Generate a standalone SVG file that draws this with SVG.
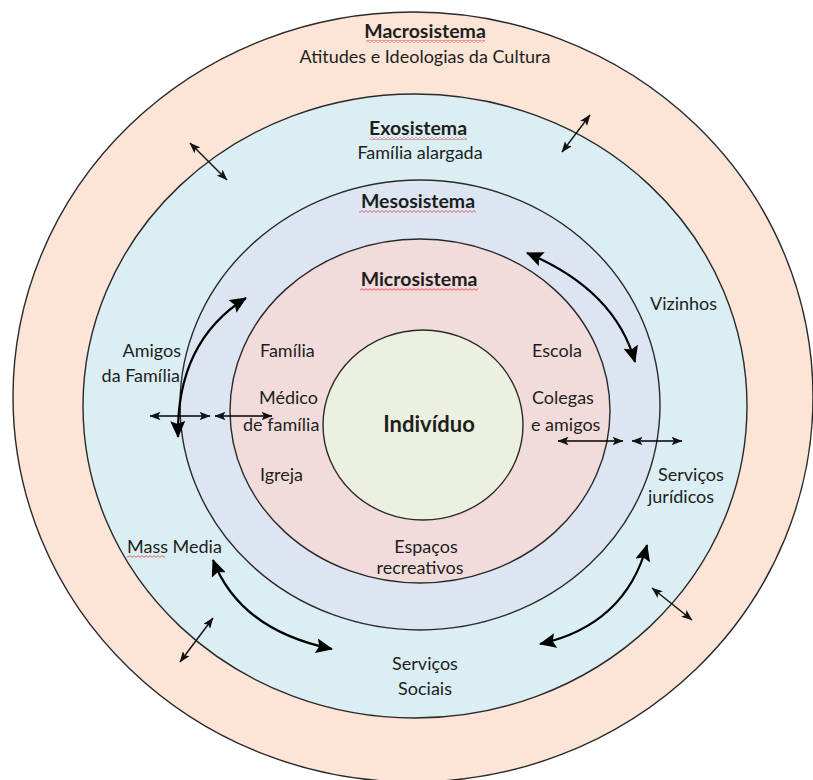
<svg xmlns="http://www.w3.org/2000/svg" width="813" height="780" viewBox="0 0 813 780">
  <style>
    .ring { stroke: #2a2a2a; stroke-width: 1.4; }
    .t { font-family: Lato, "Open Sans", "Liberation Sans", sans-serif; font-size: 18px; fill: #1e1e1e; }
    .b { font-weight: bold; font-size: 19.5px; }
    .c { text-anchor: middle; }
    .e { text-anchor: end; }
    .big { fill: none; stroke: #000; stroke-width: 2.2; marker-start: url(#bigHead); marker-end: url(#bigHead); }
    .hz { fill: none; stroke: #000; stroke-width: 1.6; marker-start: url(#smallHead); marker-end: url(#smallHead); }
    .dg { fill: none; stroke: #111; stroke-width: 1.4; marker-start: url(#smallHead); marker-end: url(#smallHead); }
  </style>
  <defs>
    <marker id="bigHead" viewBox="0 0 17 15" refX="16" refY="7.5" markerWidth="17" markerHeight="15" markerUnits="userSpaceOnUse" orient="auto-start-reverse">
      <path d="M0,0 L17,7.5 L0,15 L3,7.5 Z" fill="#000"/>
    </marker>
    <marker id="smallHead" viewBox="0 0 11 8.5" refX="10.5" refY="4.25" markerWidth="11" markerHeight="8.5" markerUnits="userSpaceOnUse" orient="auto-start-reverse">
      <path d="M0,0 L11,4.25 L0,8.5 L2.5,4.25 Z" fill="#111"/>
    </marker>
    <pattern id="wavy" width="4" height="3" patternUnits="userSpaceOnUse">
      <path d="M0,2.4 L2,0.6 L4,2.4" fill="none" stroke="#e23b3b" stroke-width="0.8"/>
    </pattern>
  </defs>
  <rect width="813" height="780" fill="#ffffff"/>

  <g id="macrosistema">
    <ellipse class="ring" cx="413" cy="397" rx="400" ry="385" fill="#fce4d6"/>
    <text class="t b c" x="425" y="38">Macrosistema</text>
    <rect x="366" y="40" width="119" height="3" fill="url(#wavy)"/>
    <text class="t c" x="425" y="63">Atitudes e Ideologias da Cultura</text>
  </g>

  <g id="exosistema">
    <ellipse class="ring" cx="415" cy="406" rx="332" ry="312" fill="#daeef3"/>
    <text class="t b c" x="418" y="135">Exosistema</text>
    <rect x="370" y="137" width="97" height="3" fill="url(#wavy)"/>
    <text class="t c" x="420" y="159">Família alargada</text>
  </g>

  <g id="mesosistema">
    <ellipse class="ring" cx="420" cy="405" rx="240" ry="225" fill="#dce5f1"/>
    <text class="t b c" x="418" y="208">Mesosistema</text>
    <rect x="359" y="210" width="117" height="3" fill="url(#wavy)"/>
  </g>

  <g id="microsistema">
    <ellipse class="ring" cx="420" cy="411" rx="190" ry="172" fill="#f2dcdb"/>
    <text class="t b c" x="419" y="286">Microsistema</text>
    <rect x="360" y="288" width="118" height="3" fill="url(#wavy)"/>
  </g>

  <g id="individuo">
    <ellipse class="ring" cx="423" cy="425" rx="100" ry="95" fill="#ebf1de"/>
    <text class="t b c" x="429" y="432" style="font-size:22px">Indivíduo</text>
  </g>

  <g id="micro-labels">
    <text class="t" x="260" y="357">Família</text>
    <text class="t" x="259" y="404">Médico</text>
    <text class="t" x="243" y="431">de família</text>
    <text class="t" x="260" y="481">Igreja</text>
    <text class="t" x="532" y="357">Escola</text>
    <text class="t" x="532" y="404">Colegas</text>
    <text class="t" x="531" y="431">e amigos</text>
    <text class="t c" x="426" y="553">Espaços</text>
    <text class="t c" x="420" y="574">recreativos</text>
  </g>

  <g id="exo-labels">
    <text class="t" x="650" y="310">Vizinhos</text>
    <text class="t e" x="181" y="357">Amigos</text>
    <text class="t e" x="180" y="382">da Família</text>
    <text class="t" x="658" y="481">Serviços</text>
    <text class="t" x="648" y="503">jurídicos</text>
    <text class="t" x="127" y="553">Mass Media</text>
    <rect x="127" y="555" width="38" height="3" fill="url(#wavy)"/>
    <text class="t c" x="425" y="670">Serviços</text>
    <text class="t c" x="425" y="695">Sociais</text>
  </g>

  <g id="connectors">
    <path class="big" d="M178,437 C177,380 195,330 246,298"/>
    <path class="big" d="M527,253 Q615,290 635,362"/>
    <path class="big" d="M213,560 Q240,630 332,649"/>
    <path class="big" d="M647,545 Q625,625 540,644"/>
    <path class="hz" d="M150,416 L210,416"/>
    <path class="hz" d="M215,416 L272,416"/>
    <path class="hz" d="M558,441 L623,441"/>
    <path class="hz" d="M632,441 L682,441"/>
    <path class="dg" d="M190,143 L227,180"/>
    <path class="dg" d="M562,152 L590,115"/>
    <path class="dg" d="M180,662 L213,618"/>
    <path class="dg" d="M652,588 L692,620"/>
  </g>
</svg>
